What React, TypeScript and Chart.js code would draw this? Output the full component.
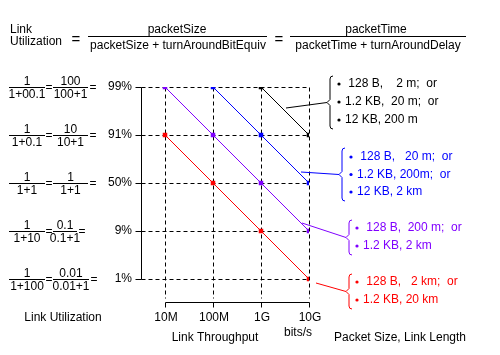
import React, { useEffect, useRef } from 'react';
import { Chart, registerables } from 'chart.js';

Chart.register(...registerables);

// ---- data ----
const throughputLabels = ['10M', '100M', '1G', '10G'];
const utilizationLevels = ['1%', '9%', '50%', '91%', '99%'];

// fraction texts per utilization level (same order as utilizationLevels)
const fracNum1 = ['1', '1', '1', '1', '1'];
const fracDen1 = ['1+100', '1+10', '1+1', '1+0.1', '1+00.1'];
const fracNum2 = ['0.01', '0.1', '1', '10', '100'];
const fracDen2 = ['0.01+1', '0.1+1', '1+1', '10+1', '100+1'];

// utilization reached at each throughput (null = no point)
const blackSeries = [null, null, '99%', '91%'];
const blueSeries = [null, '99%', '91%', '50%'];
const purpleSeries = ['99%', '91%', '50%', '9%'];
const redSeries = ['91%', '50%', '9%', '1%'];

const blackNotes = [' 128 B,    2 m;  or', '1.2 KB,  20 m;  or', '12 KB, 200 m'];
const blueNotes = [' 128 B,   20 m;  or', '1.2 KB, 200m;  or', '12 KB, 2 km'];
const purpleNotes = [' 128 B,  200 m;  or', '1.2 KB, 2 km'];
const redNotes = [' 128 B,   2 km;  or', '1.2 KB, 20 km'];

const BLACK = '#000000';
const BLUE = '#0000ff';
const PURPLE = '#8000ff';
const RED = '#ff0000';

const FONT = "12px 'Liberation Sans', Arial, sans-serif";

// layout: right end of the second fraction bar per row (same order as utilizationLevels)
const FRAC2_END = [89, 77, 88, 88, 88];

function toPoints(series: (string | null)[]) {
  const pts: { x: number; y: number }[] = [];
  series.forEach((u, i) => {
    if (u != null) pts.push({ x: i, y: utilizationLevels.indexOf(u) });
  });
  return pts;
}

function drawFrac(ctx: CanvasRenderingContext2D, num: string, den: string, x0: number, x1: number, yc: number) {
  ctx.beginPath();
  ctx.moveTo(x0, yc + 0.5);
  ctx.lineTo(x1, yc + 0.5);
  ctx.stroke();
  const cx = (x0 + x1) / 2;
  ctx.textAlign = 'center';
  ctx.fillText(num, cx, yc - 5.5);
  ctx.fillText(den, cx, yc + 7.5);
}

function drawBrace(ctx: CanvasRenderingContext2D, x: number, top: number, bottom: number, color: string) {
  const mid = (top + bottom) / 2;
  ctx.strokeStyle = color;
  ctx.lineWidth = 1;
  ctx.beginPath();
  ctx.moveTo(x + 3, top);
  ctx.quadraticCurveTo(x, top, x, top + 3);
  ctx.lineTo(x, mid - 3);
  ctx.lineTo(x - 3, mid);
  ctx.lineTo(x, mid + 3);
  ctx.lineTo(x, bottom - 3);
  ctx.quadraticCurveTo(x, bottom, x + 3, bottom);
  ctx.stroke();
}

function drawNotes(
  ctx: CanvasRenderingContext2D,
  notes: string[],
  color: string,
  braceX: number,
  top: number,
  bottom: number,
  bulletX: number,
  firstY: number,
  lineH: number,
  from: [number, number]
) {
  drawBrace(ctx, braceX, top, bottom, color);
  const mid = (top + bottom) / 2;
  ctx.beginPath();
  ctx.moveTo(from[0], from[1]);
  ctx.lineTo(braceX - 3, mid);
  ctx.stroke();
  ctx.fillStyle = color;
  ctx.textAlign = 'left';
  notes.forEach((t, i) => {
    const ty = firstY + i * lineH;
    ctx.beginPath();
    ctx.arc(bulletX, ty, 1.6, 0, Math.PI * 2);
    ctx.fill();
    ctx.fillText(t, bulletX + 6, ty);
  });
}

const diagramPlugin = {
  id: 'diagram',
  beforeDatasetsDraw(chart: any) {
    const { ctx } = chart;
    const xs = chart.scales.x;
    const ys = chart.scales.y;
    const px = (v: number) => Math.round(xs.getPixelForValue(v)) + 0.5;
    const py = (v: number) => Math.round(ys.getPixelForValue(v)) + 0.5;
    const left = Math.round(xs.left) + 0.5;
    const bottom = Math.round(ys.bottom) - 0.5;
    const lastX = throughputLabels.length - 1;
    const lastY = utilizationLevels.length - 1;
    ctx.save();
    ctx.strokeStyle = '#000';
    ctx.lineWidth = 1;
    ctx.setLineDash([4, 3]);
    utilizationLevels.forEach((_, i) => {
      ctx.beginPath();
      ctx.moveTo(left, py(i));
      ctx.lineTo(px(lastX), py(i));
      ctx.stroke();
    });
    throughputLabels.forEach((_, i) => {
      ctx.beginPath();
      ctx.moveTo(px(i), py(lastY));
      ctx.lineTo(px(i), bottom - 4);
      ctx.stroke();
    });
    ctx.setLineDash([]);
    // y axis
    ctx.beginPath();
    ctx.moveTo(left, py(lastY));
    ctx.lineTo(left, py(0));
    ctx.stroke();
    utilizationLevels.forEach((_, i) => {
      ctx.beginPath();
      ctx.moveTo(left - 6, py(i));
      ctx.lineTo(left, py(i));
      ctx.stroke();
    });
    // x axis
    ctx.beginPath();
    ctx.moveTo(px(0), bottom);
    ctx.lineTo(px(lastX), bottom);
    ctx.stroke();
    throughputLabels.forEach((_, i) => {
      ctx.beginPath();
      ctx.moveTo(px(i), bottom);
      ctx.lineTo(px(i), bottom + 5);
      ctx.stroke();
    });
    ctx.restore();
  },
  afterDatasetsDraw(chart: any) {
    const { ctx } = chart;
    const xs = chart.scales.x;
    const ys = chart.scales.y;
    ctx.save();
    ctx.font = FONT;
    ctx.fillStyle = '#000';
    ctx.strokeStyle = '#000';
    ctx.lineWidth = 1;
    ctx.textBaseline = 'middle';

    // header formula
    ctx.textAlign = 'left';
    ctx.fillText('Link', 10, 30);
    ctx.fillText('Utilization', 10, 42);
    ctx.font = "15px 'Liberation Sans', Arial, sans-serif";
    ctx.textAlign = 'center';
    ctx.fillText('=', 76, 40);
    ctx.fillText('=', 279, 40);
    ctx.font = FONT;
    ctx.beginPath();
    ctx.moveTo(88, 36.5);
    ctx.lineTo(267, 36.5);
    ctx.moveTo(290, 36.5);
    ctx.lineTo(466, 36.5);
    ctx.stroke();
    ctx.fillText('packetSize', 177, 29.5);
    ctx.fillText('packetSize + turnAroundBitEquiv', 178, 45.5);
    ctx.fillText('packetTime', 376, 29.5);
    ctx.fillText('packetTime + turnAroundDelay', 378, 45.5);

    // left fractions
    utilizationLevels.forEach((lvl, i) => {
      const yc = Math.round(ys.getPixelForValue(i));
      drawFrac(ctx, fracNum1[i], fracDen1[i], 9, 45, yc);
      ctx.textAlign = 'center';
      ctx.fillText('=', 49, yc + 1);
      const x1 = FRAC2_END[i];
      drawFrac(ctx, fracNum2[i], fracDen2[i], 53, x1, yc);
      ctx.textAlign = 'center';
      ctx.fillText('=', x1 + 5, yc + 1);
      ctx.textAlign = 'right';
      ctx.fillText(lvl, 132, yc);
    });

    // x tick labels
    ctx.textAlign = 'center';
    throughputLabels.forEach((t, i) => {
      ctx.fillText(t, xs.getPixelForValue(i) + 1, 318);
    });
    ctx.fillText('Link Utilization', 63, 318);
    ctx.fillText('Link Throughput', 215, 338);
    ctx.fillText('bits/s', 298, 333);
    ctx.fillText('Packet Size, Link Length', 400, 338);

    // annotations
    drawNotes(ctx, blackNotes, BLACK, 330, 76, 129, 339, 84, 18, [286, 108]);
    drawNotes(ctx, blueNotes, BLUE, 342, 148, 201, 351, 157, 17.5, [301, 172]);
    drawNotes(ctx, purpleNotes, PURPLE, 349, 220, 255, 357, 228, 18, [302, 223]);
    drawNotes(ctx, redNotes, RED, 349, 274, 309, 357, 282, 18, [316, 283]);

    ctx.restore();
  },
};

function makeDataset(series: (string | null)[], color: string) {
  return {
    data: toPoints(series),
    borderColor: color,
    backgroundColor: color,
    borderWidth: 1,
    pointStyle: 'rect',
    pointRadius: 3.2,
    pointBorderWidth: 0,
    pointBackgroundColor: color,
    showLine: true,
    tension: 0,
  };
}

export default function App() {
  const ref = useRef<HTMLCanvasElement | null>(null);
  useEffect(() => {
    if (!ref.current) return;
    const chart = new Chart(ref.current, {
      type: 'scatter',
      data: {
        datasets: [
          makeDataset(blackSeries, BLACK),
          makeDataset(blueSeries, BLUE),
          makeDataset(purpleSeries, PURPLE),
          makeDataset(redSeries, RED),
        ] as any,
      },
      options: {
        responsive: false,
        devicePixelRatio: 1,
        animation: false,
        events: [],
        layout: { padding: { left: 141, top: 87, right: 191, bottom: 52 } },
        scales: {
          x: { type: 'linear', min: -0.5, max: 3, display: false },
          y: { type: 'linear', min: -0.5, max: 4, display: false },
        },
        plugins: { legend: { display: false }, tooltip: { enabled: false } },
      } as any,
      plugins: [diagramPlugin],
    });
    return () => chart.destroy();
  }, []);
  return (
    <div style={{ position: 'absolute', left: 0, top: 0, width: 500, height: 355, background: '#fff' }}>
      <canvas ref={ref} width={500} height={355} style={{ display: 'block', width: 500, height: 355 }} />
    </div>
  );
}
